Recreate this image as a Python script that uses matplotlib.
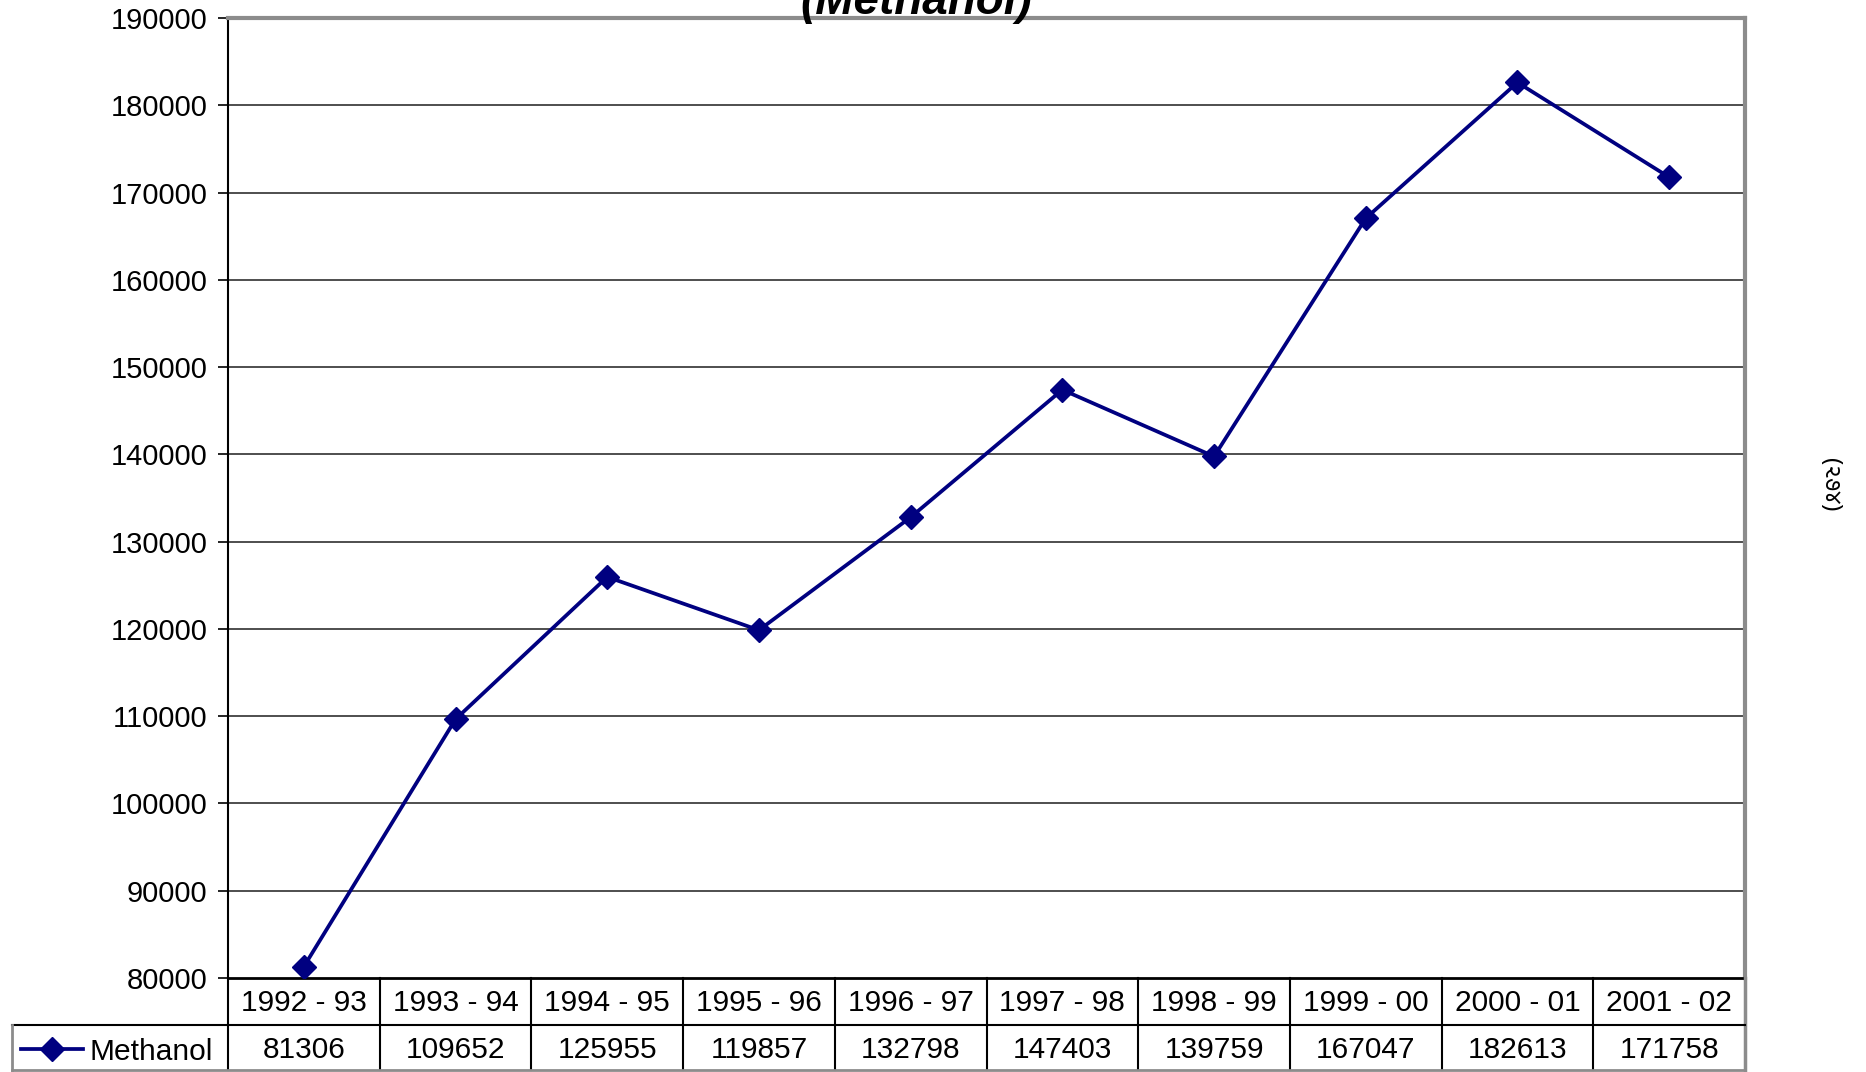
import numpy as np
import matplotlib
matplotlib.use("Agg")
from matplotlib import pyplot as plt

plt.rcParams['font.family'] = ['Liberation Sans', 'DejaVu Sans']

years = ["1992 - 93", "1993 - 94", "1994 - 95", "1995 - 96", "1996 - 97",
         "1997 - 98", "1998 - 99", "1999 - 00", "2000 - 01", "2001 - 02"]
methanol = [81306, 109652, 125955, 119857, 132798,
            147403, 139759, 167047, 182613, 171758]
yticks = np.arange(80000, 190001, 10000)

W, H = 1866, 1072
fig = plt.figure(figsize=(W / 100, H / 100), dpi=100)

# main plot area
left, right, top, bottom = 228, 1745, 18, 978
ax = fig.add_axes([left / W, 1 - bottom / H, (right - left) / W, (bottom - top) / H])
x = np.arange(len(years))
navy = "#000080"
ax.plot(x, methanol, color=navy, lw=2.7, marker="D", ms=12.5, mfc=navy, mec=navy, zorder=3)
ax.set_xlim(-0.5, len(years) - 0.5)
ax.set_ylim(80000, 190000)
ax.set_yticks(yticks)
ax.set_yticklabels([str(v) for v in yticks], fontsize=21)
ax.set_xticks([])
ax.tick_params(axis="y", length=7, width=1.2, pad=8, color="black")
for v in yticks[1:-1]:
    ax.axhline(v, color="#303030", lw=1.2, zorder=1)
ax.spines["left"].set_color("black")
ax.spines["left"].set_linewidth(1.5)
ax.spines["bottom"].set_color("black")
ax.spines["bottom"].set_linewidth(2)
for s in ("top", "right"):
    ax.spines[s].set_color("#8c8c8c")
    ax.spines[s].set_linewidth(3)

# data table under the plot
tb_bottom = 1070
tax = fig.add_axes([left / W, 1 - tb_bottom / H, (right - left) / W, (tb_bottom - bottom) / H])
tax.set_xlim(-0.5, len(years) - 0.5)
tax.set_ylim(0, 2)
tax.axis("off")
col_w = (right - left) / len(years)
leg_left = -0.5 - (left - 12) / col_w
row_mid = 0.97
kw = dict(color="black", lw=1.5, clip_on=False)
tax.plot([-0.5, -0.5], [0, 2], **kw)
for i in range(1, len(years)):
    tax.plot([i - 0.5, i - 0.5], [0, 2], **kw)
tax.plot([len(years) - 0.5] * 2, [0, 2], color="#8c8c8c", lw=2.5, clip_on=False)
tax.plot([leg_left, len(years) - 0.5], [row_mid, row_mid], **kw)
tax.plot([leg_left, leg_left], [0, row_mid], color="#8c8c8c", lw=2, clip_on=False)
tax.plot([leg_left, len(years) - 0.5], [0, 0], color="#8c8c8c", lw=2, clip_on=False)
for i, (yr, v) in enumerate(zip(years, methanol)):
    tax.text(i, 1.46, yr, ha="center", va="center", fontsize=21.5)
    tax.text(i, 0.44, str(v), ha="center", va="center", fontsize=21.5)
# legend key inside the first cell
kx = leg_left + 0.06
tax.plot([kx, kx + 0.41], [0.46, 0.46], color=navy, lw=2.7, clip_on=False)
tax.plot([kx + 0.205], [0.46], marker="D", ms=12.5, color=navy, clip_on=False)
tax.text(kx + 0.45, 0.4, "Methanol", ha="left", va="center", fontsize=21.5)

# title, partly above the top edge
fig.text(916 / W, 1 - 2 / H, "(Methanol)", ha="center", va="center",
         fontsize=33, fontweight="bold", fontstyle="italic")

# page number at the right margin
fig.text(1830 / W, 1 - 485 / H, "(૨૭૪)", ha="center", va="center", rotation=-90,
         fontsize=17, family=["Noto Sans Gujarati", "Lohit Gujarati", "Noto Serif Gujarati", "DejaVu Sans"])

fig.savefig("out.png", dpi=100)
